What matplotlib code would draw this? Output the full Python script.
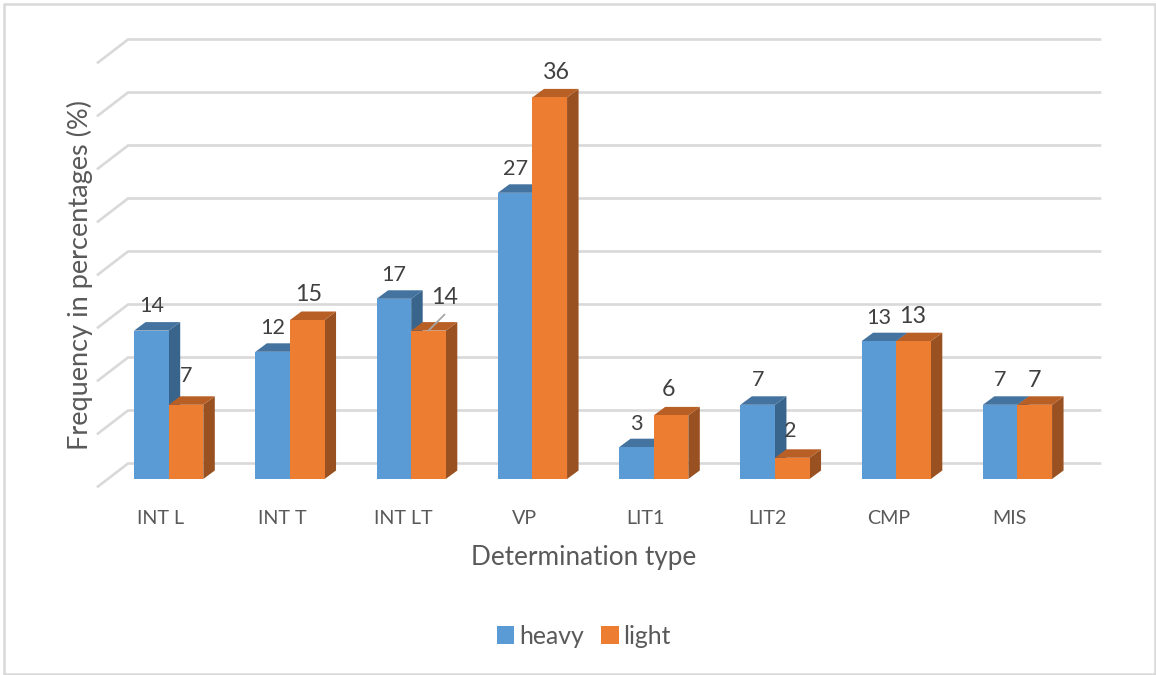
import matplotlib
matplotlib.use("Agg")
import matplotlib.pyplot as plt
from matplotlib.patches import Rectangle

categories = ["INT L", "INT T", "INT LT", "VP", "LIT1", "LIT2", "CMP", "MIS"]
heavy = [14, 12, 17, 27, 3, 7, 13, 7]
light = [7, 15, 14, 36, 6, 2, 13, 7]
grid_values = [0, 5, 10, 15, 20, 25, 30, 35, 40]

plt.rcParams["font.family"] = ["Lato", "DejaVu Sans"]
W, H = 1156, 675
fig = plt.figure(figsize=(W / 100, H / 100), dpi=100)
ax = fig.add_axes([0, 0, 1, 1])
ax.axis("off")

# pixel scale of the category and value axes
X0, XS, Y0, YS = 168.7, 121.25, 479.0, 10.6
ax.set_xlim(-X0 / XS, (W - X0) / XS)
ax.set_ylim((Y0 - H) / YS, Y0 / YS)
px = lambda d: d / XS
py = lambda d: d / YS

BW = px(34.6)
DX, DY = px(11.5), py(8.5)

BLUE = ("#5B9BD5", "#44739F", "#39648B")
ORANGE = ("#ED7D31", "#B85F26", "#9A5121")

fig.add_artist(Rectangle((3.5 / W, 1 - 673.5 / H), 1151 / W, 670 / H, transform=fig.transFigure,
                         fill=False, ec="#D9D9D9", lw=1.8))

# back wall grid
wall_y = py(15.5)
for g in grid_values:
    y = g + wall_y
    xl = ax.get_xlim()[0] + px(128)
    xr = ax.get_xlim()[0] + px(1100)
    ax.plot([xl - px(30), xl, xr], [y - py(23), y, y], color="#D9D9D9", lw=1.9, solid_joinstyle="miter", zorder=1)


def draw(xleft, value, cols):
    xr = xleft + BW
    ax.fill([xr, xr + DX, xr + DX, xr], [0, DY, value + DY, value], color=cols[2], lw=0, zorder=2)
    ax.fill([xleft, xleft + DX, xr + DX, xr], [value, value + DY, value + DY, value], color=cols[1], lw=0, zorder=2)
    return ax.bar(xleft, value, BW, align="edge", color=cols[0], lw=0, zorder=2)


for i, (h, l) in enumerate(zip(heavy, light)):
    bh = draw(i - BW, h, BLUE)
    bl = draw(i, l, ORANGE)

# data labels: (dx px, dy px, size)
BIG, SMALL = 16.8, 15.6
heavy_lab = [(0, 26, SMALL), (0, 25, SMALL), (0, 25, SMALL), (0, 25, SMALL), (0, 25, SMALL), (0, 26, SMALL), (0, 25, SMALL), (0, 26, SMALL)]
light_lab = [(0, 30, SMALL), (1, 27, BIG), (16, 35, BIG), (7, 26, BIG), (-3, 27, BIG), (-2, 28, SMALL), (-1, 26, BIG), (0, 26, BIG)]
for i in range(len(categories)):
    for xc, v, (dx, dy, fs) in ((i - BW / 2, heavy[i], heavy_lab[i]), (i + BW / 2, light[i], light_lab[i])):
        ax.annotate(str(v), (xc, v), xytext=(dx * 0.72, (dy - 1.5) * 0.72), textcoords="offset points",
                    ha="center", va="center", fontsize=fs, color="#404040", zorder=4)

# leader line on INT LT light
ax.annotate("", (2 + BW / 2, light[2]), xytext=(2 + BW / 2 + px(16), light[2] + py(16)),
            arrowprops=dict(arrowstyle="-", color="#A6A6A6", lw=1.3, shrinkA=0, shrinkB=0), zorder=3)

# category labels
for i, c in enumerate(categories):
    ax.text(i - px(8), py(-39), c, ha="center", va="center", fontsize=14.2, color="#595959")

ax.text(px(584 - X0), py(479 - 557), "Determination type", ha="center", va="center", fontsize=18.8, color="#595959")
ax.text(px(79.5 - X0), py(479 - 275), "Frequency in percentages (%)", rotation=90, ha="center", va="center",
        fontsize=19.5, color="#595959")

leg = ax.legend([bh, bl], ["heavy", "light"], ncol=2, frameon=False, loc="center",
                bbox_to_anchor=(584 / W, 1 - 636 / H), fontsize=17.8, labelcolor="#595959",
                handlelength=0.7, handleheight=0.7, handletextpad=0.2, columnspacing=0.7)

fig.savefig("out.png", dpi=100, facecolor="white")
